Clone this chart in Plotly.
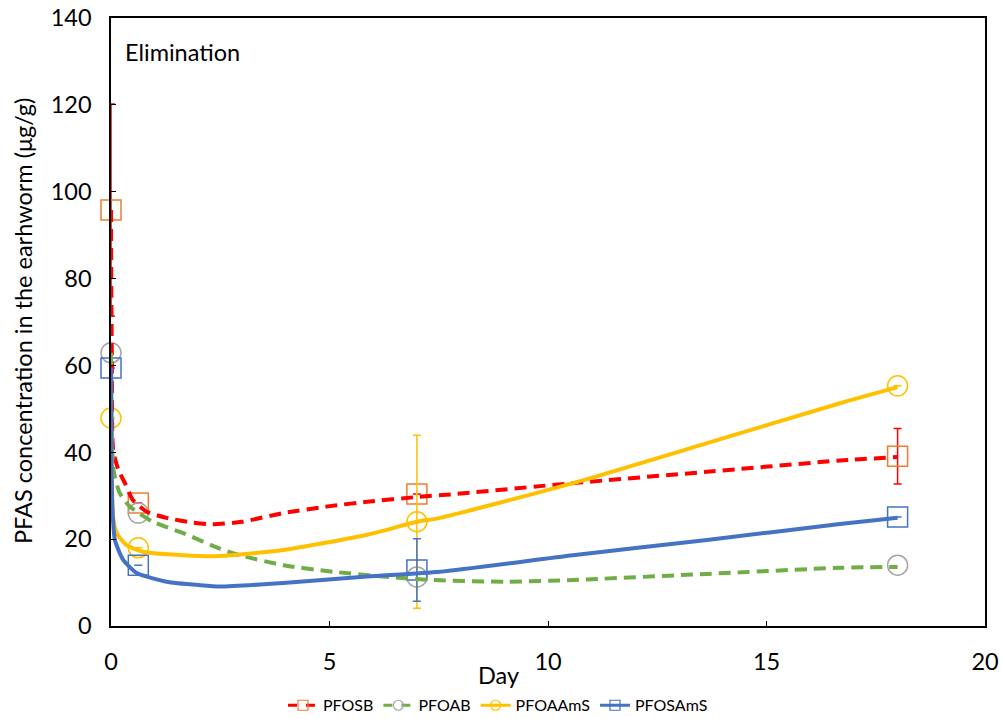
import plotly.graph_objects as go

# ---- measured data points ----
days = [0, 0.625, 7, 18]
pfosb = [95.8, 28.3, 30.4, 39.1]
pfosb_err = [24.4, 0, 0, 6.4]
pfoab = [62.9, 26.0, 11.3, 14.0]
pfoaams = [47.9, 18.0, 24.0, 55.3]
pfoaams_err = [0, 0, 19.9, 0]
pfosams = [59.4, 14.0, 12.9, 25.1]
pfosams_err = [0, 0, 7.2, 0]

# ---- fitted curves ----
fit_pfosb_x = [0, 0.005, 0.02, 0.05, 0.17, 0.32, 0.5, 0.82, 1.27, 1.88, 2.3, 3.0, 3.94, 5.0, 5.86, 7.0, 7.76, 10.57, 13.64, 16.68, 18]
fit_pfosb_y = [95.8, 80, 62, 40.5, 35.9, 32.9, 29.0, 26.3, 24.9, 23.8, 23.4, 24.0, 26.0, 27.6, 28.6, 29.7, 30.3, 32.9, 35.5, 38.1, 38.9]

fit_pfoab_x = [0, 0.01, 0.03, 0.07, 0.2, 0.43, 0.96, 1.65, 2.49, 2.95, 3.94, 5.08, 6.22, 7.37, 9.06, 10.57, 13.64, 16.68, 18]
fit_pfoab_y = [62.9, 50, 40, 35.2, 30.6, 27.5, 24.0, 21.4, 17.8, 16.3, 14.0, 12.5, 11.4, 10.6, 10.2, 10.6, 12.0, 13.4, 13.6]

fit_pfoaams_x = [0, 0.02, 0.05, 0.13, 0.36, 0.73, 1.65, 2.49, 3.94, 5.86, 7.0, 7.53, 10.57, 13.64, 16.68, 18]
fit_pfoaams_y = [47.9, 34, 25, 21.4, 18.6, 17.1, 16.3, 16.1, 17.5, 21.0, 24.0, 24.9, 32.9, 42.1, 51.3, 55.0]

fit_pfosams_x = [0, 0.01, 0.03, 0.09, 0.28, 0.59, 1.27, 2.04, 2.49, 3.94, 5.86, 7.53, 10.57, 13.64, 16.68, 18]
fit_pfosams_y = [59.4, 40, 27.5, 19.8, 15.2, 12.2, 10.2, 9.4, 9.1, 9.9, 11.4, 12.5, 16.3, 19.8, 23.5, 24.9]

series = [
    dict(name="PFOSB", y=pfosb, err=pfosb_err, ecol="#FF0000", mcol="#ED7D31", sym="square-open",
         fx=fit_pfosb_x, fy=fit_pfosb_y, lcol="#FF0000", dash="12px,7px"),
    dict(name="PFOAB", y=pfoab, err=None, ecol=None, mcol="#A5A5A5", sym="circle-open",
         fx=fit_pfoab_x, fy=fit_pfoab_y, lcol="#70AD47", dash="12px,7px"),
    dict(name="PFOAAmS", y=pfoaams, err=pfoaams_err, ecol="#FFC000", mcol="#FFC000", sym="circle-open",
         fx=fit_pfoaams_x, fy=fit_pfoaams_y, lcol="#FFC000", dash="solid"),
    dict(name="PFOSAmS", y=pfosams, err=pfosams_err, ecol="#4472C4", mcol="#4472C4", sym="square-open",
         fx=fit_pfosams_x, fy=fit_pfosams_y, lcol="#4472C4", dash="solid"),
]

fig = go.Figure()

# markers with error bars
for s in series:
    err = None
    if s["err"] is not None:
        err = dict(type="data", array=s["err"], visible=True, color=s["ecol"], thickness=1.5, width=4)
    fig.add_trace(go.Scatter(
        x=days, y=s["y"], mode="markers", showlegend=False, cliponaxis=False,
        marker=dict(symbol=s["sym"], size=20, color=s["mcol"], line=dict(width=1.5, color=s["mcol"])),
        error_y=err, hoverinfo="skip"))

# fitted curves
for s in series:
    fig.add_trace(go.Scatter(
        x=s["fx"], y=s["fy"], mode="lines", showlegend=False, cliponaxis=False,
        line=dict(color=s["lcol"], width=4, dash=s["dash"], shape="spline", smoothing=0.6)))

# legend entries
for s in series:
    fig.add_trace(go.Scatter(
        x=[None], y=[None], mode="lines+markers", name=s["name"],
        line=dict(color=s["lcol"], width=3, dash="dash" if s["dash"] != "solid" else "solid"),
        marker=dict(symbol=s["sym"], size=10, color=s["mcol"], line=dict(width=1.2, color=s["mcol"]))))

font = "Lato, Carlito, Calibri, sans-serif"
fs = 23.5
fig.update_layout(
    width=1002, height=719,
    margin=dict(l=111, r=17, t=18, b=93, autoexpand=False),
    paper_bgcolor="white", plot_bgcolor="white",
    font=dict(family=font, color="black", size=fs),
    showlegend=True,
    legend=dict(orientation="h", xref="container", yref="container",
                x=0.497, xanchor="center", y=0.019, yanchor="middle",
                font=dict(size=16, family=font), itemwidth=30, tracegroupgap=0),
    annotations=[
        dict(text="Elimination", x=0.014, y=0.944, xref="paper", yref="paper",
             xanchor="left", yanchor="middle", showarrow=False, font=dict(size=fs, family=font)),
        dict(text="Day", x=0.443, y=-0.0806, xref="paper", yref="paper",
             xanchor="center", yanchor="middle", showarrow=False, font=dict(size=fs, family=font)),
        dict(text="PFAS concentration in the earhworm (μg/g)", x=-0.1007, y=0.5016,
             xref="paper", yref="paper", xanchor="center", yanchor="middle", textangle=-90,
             showarrow=False, font=dict(size=fs, family=font)),
    ],
)
fig.update_xaxes(
    range=[0, 20], dtick=5, tick0=0, ticks="inside", ticklen=5, tickcolor="black",
    showline=True, linecolor="black", linewidth=1.5, mirror=True, showgrid=False, zeroline=False,
    ticklabelstandoff=14, tickfont=dict(size=fs), automargin=False)
fig.update_yaxes(
    range=[0, 140], dtick=20, tick0=0, ticks="inside", ticklen=5, tickcolor="black",
    showline=True, linecolor="black", linewidth=1.5, mirror=True, showgrid=False, zeroline=False,
    ticklabelstandoff=13, tickfont=dict(size=fs), automargin=False)

fig.write_html("out.html")
